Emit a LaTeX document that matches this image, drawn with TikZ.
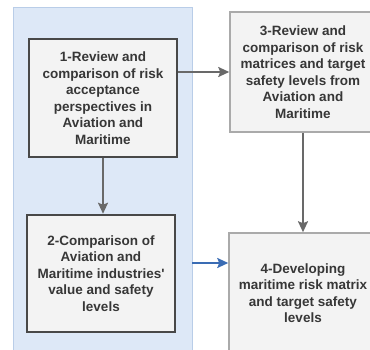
\documentclass[tikz,border=0pt]{standalone}
\usepackage{fontspec}
\setmainfont{Liberation Sans}
\usetikzlibrary{arrows.meta}
\definecolor{panelblue}{RGB}{221,232,247}
\definecolor{panelline}{RGB}{185,205,232}
\definecolor{boxfill}{RGB}{243,243,243}
\definecolor{darkline}{RGB}{72,72,72}
\definecolor{lightline}{RGB}{170,170,170}
\definecolor{arrowgray}{RGB}{105,105,105}
\definecolor{arrowblue}{RGB}{58,108,180}
\definecolor{textgray}{RGB}{55,55,55}
\tikzset{
  stagebox/.style={draw=darkline, line width=2.5pt, fill=boxfill, align=center,
    inner sep=0pt, font=\fontsize{13.5}{16.5}\selectfont\bfseries, text=textgray},
  outbox/.style={stagebox, draw=lightline, line width=1.5pt},
  flow/.style={draw=arrowgray, line width=2pt, -{Stealth[length=11pt,width=10pt,inset=2pt]}},
}
\begin{document}
\begin{tikzpicture}[x=1pt, y=-1pt]
\useasboundingbox (0,0) rectangle (370,350);
\clip (0,0) rectangle (370,350);
% shaded panel behind stages 1 and 2
\draw[fill=panelblue, draw=panelline, line width=1pt] (13,8) rectangle (192,360);
\coordinate (panelE) at (192,263);
\node[stagebox, minimum width=148pt, minimum height=118pt] (s1) at (103,98)
  {1-Review and\\comparison of risk\\acceptance\\perspectives in\\Aviation and\\Maritime};
\node[stagebox, minimum width=148pt, minimum height=117pt] (s2) at (101,273.5)
  {2-Comparison of\\Aviation and\\Maritime industries\textquotesingle\\value and safety\\levels};
\node[outbox, minimum width=146pt, minimum height=120pt] (s3) at (303,72)
  {3-Review and\\comparison of risk\\matrices and target\\safety levels from\\Aviation and\\Maritime};
\node[outbox, minimum width=148pt, minimum height=120pt] (s4) at (303,293)
  {4-Developing\\maritime risk matrix\\and target safety\\levels};
\draw[flow] (s3.west -| s1.east) -- (s3.west);
\draw[flow] (s1.south) -- (s1.south |- s2.north);
\draw[flow] (s3.south) -- (s4.north);
\draw[flow, draw=arrowblue] (panelE) -- (panelE -| s4.west);
\end{tikzpicture}
\end{document}
